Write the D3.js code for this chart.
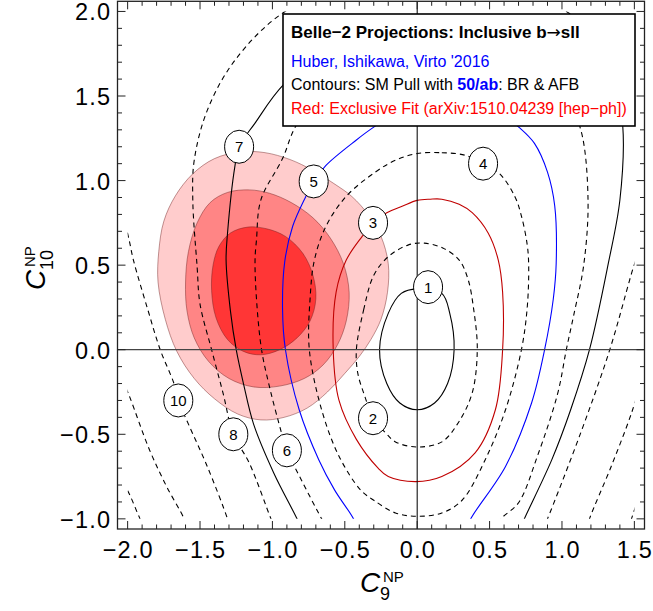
<!DOCTYPE html>
<html><head><meta charset="utf-8">
<script src="https://cdn.jsdelivr.net/npm/d3@7"></script>
<style>
body{margin:0;background:#fff}
svg{display:block}
text{font-family:"Liberation Sans",Arial,Helvetica,sans-serif}
</style>
</head><body>
<svg id="chart" width="653" height="611"></svg>
<script>
// ---------------- data ----------------
const xTicks = [-2.0, -1.5, -1.0, -0.5, 0.0, 0.5, 1.0, 1.5];
const yTicks = [-1.0, -0.5, 0.0, 0.5, 1.0, 1.5, 2.0];
const xDomain = [-2.07, 1.57];
const yDomain = [-1.06, 2.06];
const gridX = [-2.0, 1.5];   // region where the pull was computed
const gridY = [-1.0, 2.0];

// SM-pull contour lines (C9, C10)
const pull1 = [[0,0.36],[0.17,0.333],[0.225,0.215],[0.255,0],[0.21,-0.2],[0.12,-0.315],[0,-0.355],[-0.12,-0.315],[-0.21,-0.2],[-0.26,0],[-0.2,0.215],[-0.11,0.333]];
const pull2 = [[-0.42,0],[-0.37,0.235],[-0.3,0.44],[-0.2,0.55],[-0.06,0.62],[0.05,0.63],[0.18,0.6],[0.29,0.53],[0.35,0.42],[0.39,0.24],[0.415,0],[0.38,-0.255],[0.285,-0.43],[0.17,-0.545],[0,-0.575],[-0.15,-0.545],[-0.22,-0.49],[-0.305,-0.405],[-0.36,-0.28],[-0.41,-0.14]];
const pull3 = [[-0.58,0],[-0.56,0.34],[-0.49,0.53],[-0.38,0.67],[-0.305,0.75],[-0.21,0.81],[-0.1,0.85],[0,0.883],[0.09,0.89],[0.17,0.89],[0.29,0.86],[0.38,0.81],[0.49,0.69],[0.56,0.53],[0.59,0.34],[0.59,0],[0.54,-0.355],[0.40,-0.61],[0.17,-0.75],[-0.01,-0.78],[-0.2,-0.75],[-0.27,-0.70],[-0.42,-0.53],[-0.54,-0.30]];
const pull4 = [[0,1.16],[0.17,1.165],[0.33,1.15],[0.455,1.10],[0.57,1.04],[0.675,0.905],[0.72,0.79],[0.76,0.62],[0.77,0.5],[0.76,0.25],[0.72,0],[0.61,-0.355],[0.47,-0.65],[0.31,-0.89],[0.17,-0.965],[0,-0.985],[-0.15,-0.965],[-0.30,-0.89],[-0.39,-0.83],[-0.54,-0.63],[-0.66,-0.355],[-0.745,0],[-0.74,0.3],[-0.71,0.53],[-0.63,0.73],[-0.49,0.907],[-0.29,1.05],[-0.15,1.12]];
const pull5 = [[-0.42,-1.05],[-0.44,-1.0],[-0.57,-0.83],[-0.68,-0.65],[-0.815,-0.355],[-0.91,0],[-0.93,0.24],[-0.915,0.52],[-0.86,0.73],[-0.77,0.905],[-0.715,0.995],[-0.63,1.09],[-0.42,1.24],[-0.31,1.31],[-0.1,1.42],[0.15,1.47],[0.4,1.45],[0.6,1.38],[0.71,1.31],[0.81,1.22],[0.90,1.05],[0.95,0.85],[0.96,0.51],[0.94,0.30],[0.88,0],[0.79,-0.315],[0.61,-0.69],[0.37,-1.0],[0.35,-1.05]];
const pull6 = [[-0.62,-1.06],[-0.66,-1.0],[-0.80,-0.77],[-0.90,-0.595],[-0.955,-0.435],[-1.02,-0.22],[-1.075,0],[-1.11,0.3],[-1.12,0.53],[-1.11,0.65],[-1.08,0.885],[-0.93,1.13],[-0.84,1.32],[-0.6,1.6],[-0.2,1.78],[0.3,1.82],[0.75,1.7],[1.02,1.5],[1.13,1.30],[1.18,0.885],[1.15,0.5],[1.08,0.2],[1.03,0],[0.97,-0.26],[0.83,-0.63],[0.70,-0.905],[0.58,-1.0],[0.55,-1.06]];
const pull7 = [[-0.80,-1.06],[-0.83,-1.0],[-0.99,-0.73],[-1.13,-0.44],[-1.20,-0.20],[-1.25,0],[-1.29,0.23],[-1.32,0.53],[-1.31,0.69],[-1.26,1.08],[-1.23,1.20],[-1.12,1.34],[-0.92,1.57],[-0.5,1.85],[0,1.97],[0.6,1.9],[1.1,1.7],[1.38,1.5],[1.42,1.32],[1.40,0.885],[1.32,0.51],[1.19,0],[1.06,-0.355],[0.93,-0.65],[0.74,-1.0],[0.71,-1.06]];
const pull8 = [[-0.98,-1.06],[-1.01,-1.0],[-1.16,-0.67],[-1.27,-0.50],[-1.34,-0.26],[-1.42,0],[-1.50,0.27],[-1.52,0.49],[-1.55,0.885],[-1.54,1.12],[-1.45,1.415],[-1.26,1.71],[-0.93,1.99],[-0.5,2.15],[0.2,2.2],[0.8,2.1],[1.3,1.8],[1.58,1.2],[1.6,0.8],[1.48,0.45],[1.33,0],[1.13,-0.49],[0.90,-1.0],[0.87,-1.06]];
const pull10L = [[-2.06,0.9],[-1.99,0.65],[-1.96,0.53],[-1.86,0.235],[-1.775,0],[-1.68,-0.20],[-1.65,-0.30],[-1.58,-0.44],[-1.45,-0.69],[-1.31,-1.0],[-1.29,-1.06]];
const pull10R = [[1.17,-1.06],[1.19,-1.0],[1.34,-0.69],[1.48,-0.375],[1.56,-0.15]];
const pull12L = [[-2.06,-0.13],[-1.99,-0.27],[-1.85,-0.59],[-1.73,-0.81],[-1.61,-1.0],[-1.59,-1.06]];
const pull12R = [[1.46,-1.06],[1.48,-1.0],[1.54,-0.85]];
const pull14L = [[-2.06,-0.74],[-1.99,-0.85],[-1.93,-0.97],[-1.915,-1.0],[-1.9,-1.06]];

const pullLines = [
  {level:1, pts:pull1, closed:true},
  {level:2, pts:pull2, closed:true},
  {level:3, pts:pull3, closed:true},
  {level:4, pts:pull4, closed:true},
  {level:5, pts:pull5, closed:false},
  {level:6, pts:pull6, closed:false},
  {level:7, pts:pull7, closed:false},
  {level:8, pts:pull8, closed:false},
  {level:10, pts:pull10L, closed:false},
  {level:10, pts:pull10R, closed:false},
  {level:12, pts:pull12L, closed:false},
  {level:12, pts:pull12R, closed:false},
  {level:14, pts:pull14L, closed:false}
];

// contour labels
const labelText = ["1","2","3","4","5","6","7","8","10"];
const labelC9   = [0.075,-0.305,-0.305,0.455,-0.715,-0.90,-1.23,-1.27,-1.65];
const labelC10  = [0.37,-0.405,0.75,1.10,0.995,-0.595,1.20,-0.50,-0.30];

// exclusive fit regions (3, 2, 1 sigma)
const fitOuter  = [[-1.79,0.40],[-1.785,0.58],[-1.75,0.76],[-1.67,0.91],[-1.55,1.04],[-1.40,1.13],[-1.22,1.17],[-1.05,1.165],[-0.88,1.125],[-0.72,1.06],[-0.58,0.985],[-0.45,0.905],[-0.34,0.80],[-0.25,0.67],[-0.20,0.51],[-0.205,0.34],[-0.25,0.18],[-0.32,0.06],[-0.40,-0.04],[-0.50,-0.14],[-0.62,-0.25],[-0.76,-0.345],[-0.92,-0.40],[-1.08,-0.415],[-1.24,-0.38],[-1.40,-0.29],[-1.54,-0.17],[-1.66,-0.01],[-1.74,0.18]];
const fitMiddle = [[-1.60,0.40],[-1.58,0.58],[-1.52,0.75],[-1.43,0.87],[-1.31,0.93],[-1.16,0.945],[-1.02,0.925],[-0.87,0.87],[-0.72,0.78],[-0.60,0.66],[-0.51,0.51],[-0.47,0.34],[-0.49,0.17],[-0.55,0.03],[-0.65,-0.09],[-0.78,-0.17],[-0.95,-0.215],[-1.13,-0.22],[-1.30,-0.17],[-1.44,-0.07],[-1.54,0.07],[-1.59,0.23]];
const fitInner  = [[-1.42,0.35],[-1.41,0.50],[-1.37,0.61],[-1.29,0.69],[-1.17,0.725],[-1.04,0.715],[-0.91,0.67],[-0.79,0.57],[-0.72,0.44],[-0.70,0.30],[-0.74,0.17],[-0.83,0.07],[-0.95,0.0],[-1.08,-0.03],[-1.20,-0.01],[-1.31,0.06],[-1.39,0.19]];

const legendTitle = ["Belle\u22122 Projections: Inclusive b", "\u2192", "sll"];
const legendAuthors = "Huber, Ishikawa, Virto '2016";
const legendContours = ["Contours: SM Pull with ", "50/ab", ": BR & AFB"];
const legendRed = "Red: Exclusive Fit (arXiv:1510.04239 [hep\u2212ph])";

// ---------------- styles ----------------
const lineStyle = {
  1:{stroke:"#000", dash:null},
  2:{stroke:"#000", dash:"5,4"},
  3:{stroke:"#c00000", dash:null},
  4:{stroke:"#000", dash:"5,4"},
  5:{stroke:"#0000ff", dash:null},
  6:{stroke:"#000", dash:"5,4"},
  7:{stroke:"#000", dash:null},
  8:{stroke:"#000", dash:"5,4"},
  10:{stroke:"#000", dash:"5,4"},
  12:{stroke:"#000", dash:"5,4"},
  14:{stroke:"#000", dash:"5,4"}
};
const fitFill = ["#ffcccc","#ff8585","#ff3636"];

// ---------------- drawing ----------------
const svg = d3.select("#chart");
const x = d3.scaleLinear().domain(xDomain).range([117.5, 644.5]);
const y = d3.scaleLinear().domain(yDomain).range([529, 1.3]);
const fmt = v => d3.format(".1f")(v).replace("-", "\u2212");

const defs = svg.append("defs");
defs.append("clipPath").attr("id","frameClip").append("rect")
  .attr("x", x(xDomain[0])).attr("y", y(yDomain[1]))
  .attr("width", x(xDomain[1]) - x(xDomain[0])).attr("height", y(yDomain[0]) - y(yDomain[1]));
defs.append("clipPath").attr("id","gridClip").append("rect")
  .attr("x", x(gridX[0])).attr("y", y(gridY[1]))
  .attr("width", x(gridX[1]) - x(gridX[0])).attr("height", y(gridY[0]) - y(gridY[1]));

const closedLine = d3.line().x(d => x(d[0])).y(d => y(d[1])).curve(d3.curveCatmullRomClosed.alpha(0.5));
const openLine = d3.line().x(d => x(d[0])).y(d => y(d[1])).curve(d3.curveCatmullRom.alpha(0.5));

// fit regions
const gFit = svg.append("g").attr("clip-path","url(#frameClip)");
[fitOuter, fitMiddle, fitInner].forEach((reg, i) => {
  gFit.append("path").attr("d", closedLine(reg))
    .attr("fill", fitFill[i]).attr("stroke", "rgba(110,30,30,0.45)").attr("stroke-width", 1);
});

// pull contours
const gPull = svg.append("g").attr("clip-path","url(#gridClip)");
pullLines.forEach(c => {
  const st = lineStyle[c.level];
  gPull.append("path").attr("d", (c.closed ? closedLine : openLine)(c.pts))
    .attr("fill","none").attr("stroke", st.stroke).attr("stroke-width", 1.1)
    .attr("stroke-dasharray", st.dash);
});

// zero axes
const gAx = svg.append("g").attr("clip-path","url(#frameClip)");
gAx.append("line").attr("x1", x(xDomain[0])).attr("x2", x(xDomain[1]))
  .attr("y1", y(0)).attr("y2", y(0)).attr("stroke","#444").attr("stroke-width",1.2);
gAx.append("line").attr("x1", x(0)).attr("x2", x(0))
  .attr("y1", y(yDomain[0])).attr("y2", y(yDomain[1])).attr("stroke","#111").attr("stroke-width",1.1);

// contour labels
const gLab = svg.append("g");
labelText.forEach((t, i) => {
  const cx = x(labelC9[i]), cy = y(labelC10[i]);
  gLab.append("ellipse").attr("cx", cx).attr("cy", cy).attr("rx", 14.5).attr("ry", 16.5)
    .attr("fill","#fff").attr("stroke","#000").attr("stroke-width",1);
  gLab.append("text").attr("x", cx).attr("y", cy + 5.5).attr("text-anchor","middle")
    .attr("font-size", 15).text(t);
});

// legend
const lg = svg.append("g");
lg.append("rect").attr("x",283).attr("y",14).attr("width",352).attr("height",112)
  .attr("fill","#fff").attr("stroke","#000").attr("stroke-width",1.6);
const t1 = lg.append("text").attr("x",291).attr("y",37.5).attr("font-size",17).attr("font-weight","bold");
t1.append("tspan").text(legendTitle[0]);
t1.append("tspan").attr("font-family","DejaVu Sans").attr("font-weight","normal").text(legendTitle[1]);
t1.append("tspan").text(legendTitle[2]);
lg.append("text").attr("x",291).attr("y",66.5).attr("font-size",16).attr("fill","#0000ff").text(legendAuthors);
const t3 = lg.append("text").attr("x",291).attr("y",89.5).attr("font-size",16).attr("fill","#000");
t3.append("tspan").text(legendContours[0]);
t3.append("tspan").attr("font-weight","bold").attr("fill","#0000ff").text(legendContours[1]);
t3.append("tspan").text(legendContours[2]);
lg.append("text").attr("x",291).attr("y",114).attr("font-size",16).attr("fill","#ff0000").text(legendRed);

// frame
const x0 = x(xDomain[0]), x1 = x(xDomain[1]), y0 = y(yDomain[0]), y1 = y(yDomain[1]);
svg.append("rect").attr("x", x0).attr("y", y1).attr("width", x1 - x0).attr("height", y0 - y1)
  .attr("fill","none").attr("stroke","#222").attr("stroke-width",1.3);

// ticks
const gT = svg.append("g").attr("stroke","#222").attr("stroke-width",1);
const xMinor = d3.range(-20, 16).map(i => i / 10);
const yMinor = d3.range(-10, 21).map(i => i / 10);
const isMajor = v => Math.abs(v * 2 - Math.round(v * 2)) < 1e-6;
xMinor.forEach(v => {
  const L = isMajor(v) ? 8 : 4.5;
  gT.append("line").attr("x1", x(v)).attr("x2", x(v)).attr("y1", y0).attr("y2", y0 - L);
  gT.append("line").attr("x1", x(v)).attr("x2", x(v)).attr("y1", y1).attr("y2", y1 + L);
});
yMinor.forEach(v => {
  const L = isMajor(v) ? 8 : 4.5;
  gT.append("line").attr("y1", y(v)).attr("y2", y(v)).attr("x1", x0).attr("x2", x0 + L);
  gT.append("line").attr("y1", y(v)).attr("y2", y(v)).attr("x1", x1).attr("x2", x1 - L);
});

// tick labels
xTicks.forEach(v => {
  svg.append("text").attr("x", x(v) + 0.6).attr("y", 558).attr("text-anchor","middle")
    .attr("font-size", 23.5).attr("letter-spacing", 1.2).text(fmt(v));
});
yTicks.forEach(v => {
  svg.append("text").attr("x", 111.2).attr("y", y(v) + 9).attr("text-anchor","end")
    .attr("font-size", 23.5).attr("letter-spacing", 1.2).text(fmt(v));
});

// axis titles
function axisTitle(g, sub) {
  g.append("text").attr("x",0).attr("y",0).attr("font-size",28).attr("font-style","italic").text("C");
  g.append("text").attr("x",23).attr("y",-10).attr("font-size",15).text("NP");
  g.append("text").attr("x",20).attr("y",8).attr("font-size",18).text(sub);
}
axisTitle(svg.append("g").attr("transform","translate(360,592)"), "9");
axisTitle(svg.append("g").attr("transform","translate(45,290) rotate(-90)"), "10");
</script>
</body></html>
